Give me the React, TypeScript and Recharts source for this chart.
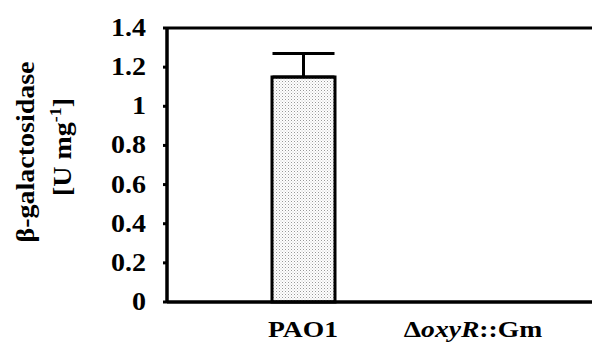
import { BarChart, Bar, XAxis, YAxis, ErrorBar, ReferenceLine } from 'recharts'

const categories = ['PAO1', 'ΔoxyR::Gm']
const values = [1.15, null]
const errors = [[0, 0.12], null]
const yTicks = [0, 0.2, 0.4, 0.6, 0.8, 1, 1.2, 1.4]

const data = categories.map((name, i) => ({ name, value: values[i], err: errors[i] }))

const FONT = '"Liberation Serif", "Times New Roman", serif'
const FS = 25
const SX = 1.12

function XTick({ x, y, payload }: any) {
  const v: string = payload.value
  return (
    <g transform={`translate(${x},${y + 27}) scale(1.15,1)`}>
      <text x={0} y={0} textAnchor="middle" fontFamily={FONT} fontWeight="bold" fontSize={24} fill="#000">
        {v.startsWith('Δ') ? (
          <>
            <tspan>Δ</tspan>
            <tspan fontStyle="italic">oxyR</tspan>
            <tspan>::Gm</tspan>
          </>
        ) : (
          v
        )}
      </text>
    </g>
  )
}

function YTick({ x, y, payload }: any) {
  return (
    <g transform={`translate(${x - 15},${y + 8}) scale(${SX},1)`}>
      <text x={0} y={0} textAnchor="end" fontFamily={FONT} fontWeight="bold" fontSize={FS} fill="#000">
        {payload.value}
      </text>
    </g>
  )
}

function YTitle() {
  return (
    <g fontFamily={FONT} fontWeight="bold" fontSize={FS} fill="#000">
      <g transform={`translate(34,152) rotate(-90) scale(${SX},1)`}>
        <text x={0} y={0} textAnchor="middle">β-galactosidase</text>
      </g>
      <g transform={`translate(71,147) rotate(-90) scale(${SX},1)`}>
        <text x={0} y={0} textAnchor="middle">
          [U mg<tspan fontSize={16} dy={-10}>-1</tspan><tspan dy={10}>]</tspan>
        </text>
      </g>
    </g>
  )
}

export default function App() {
  return (
    <div style={{ position: 'absolute', left: 0, top: 0, width: 592, height: 343, background: '#fff' }}>
      <svg width={0} height={0} style={{ position: 'absolute' }}>
        <defs>
          <pattern id="stipple" width={3} height={3} patternUnits="userSpaceOnUse">
            <rect width={3} height={3} fill="#fff" />
            <rect x={0} y={0} width={1} height={1} fill="#999" />
            <rect x={1.5} y={1.5} width={1} height={1} fill="#c4c4c4" />
          </pattern>
        </defs>
      </svg>
      <BarChart
        width={592}
        height={343}
        data={data}
        margin={{ top: 28, right: 0, bottom: 0, left: 0 }}
        barSize={63}
      >
        <XAxis
          dataKey="name"
          tick={<XTick />}
          tickLine={false}
          axisLine={{ stroke: '#000', strokeWidth: 3.5 }}
          padding={{ left: 51, right: 34 }}
          height={41}
          interval={0}
        />
        <YAxis
          domain={[0, 1.4]}
          ticks={yTicks}
          width={167}
          tick={<YTick />}
          tickSize={4}
          tickLine={{ stroke: '#000', strokeWidth: 3 }}
          axisLine={{ stroke: '#000', strokeWidth: 3.5 }}
          label={{ content: () => <YTitle /> }}
        />
        <ReferenceLine y={1.4} stroke="#000" strokeWidth={3} ifOverflow="visible" />
        <Bar dataKey="value" fill="url(#stipple)" stroke="#000" strokeWidth={3} isAnimationActive={false}>
          <ErrorBar dataKey="err" direction="y" width={31} stroke="#000" strokeWidth={3} />
        </Bar>
      </BarChart>
    </div>
  )
}
